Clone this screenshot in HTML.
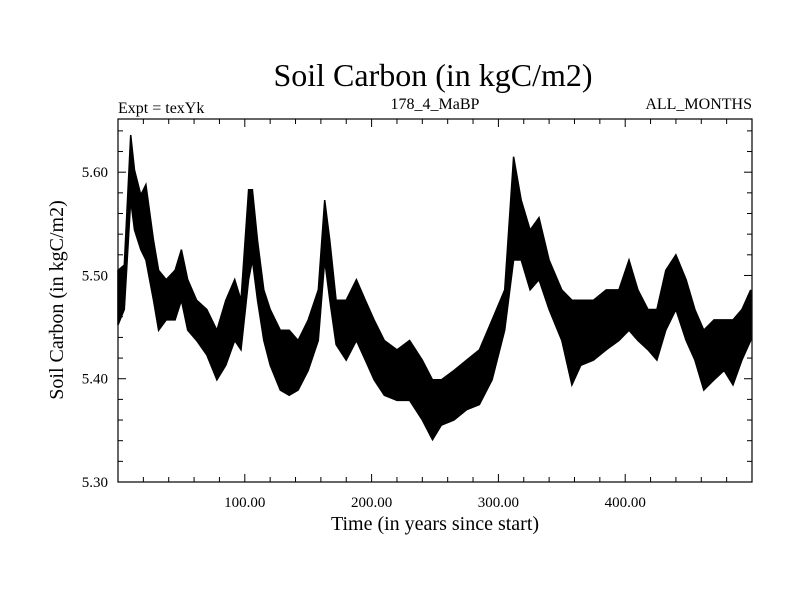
<!DOCTYPE html>
<html><head><meta charset="utf-8"><style>
html,body{margin:0;padding:0;background:#fff;}
svg{display:block;font-family:"Liberation Serif",serif;}
</style></head><body>
<svg id="chart" width="800" height="600">
<text x="433" y="86" font-size="32" text-anchor="middle">Soil Carbon (in kgC/m2)</text>
<text x="118" y="113" font-size="16">Expt = texYk</text>
<text x="435" y="109" font-size="16" text-anchor="middle">178_4_MaBP</text>
<text x="752" y="109" font-size="16" text-anchor="end">ALL_MONTHS</text>
<text x="435" y="530" font-size="20" text-anchor="middle">Time (in years since start)</text>
<text transform="translate(63,300) rotate(-90)" font-size="20" text-anchor="middle">Soil Carbon (in kgC/m2)</text>
<g id="ticks"></g>
<path id="band" fill="#000" stroke="#000" stroke-width="1.5"></path>
<rect x="118" y="119" width="634" height="363" fill="none" stroke="#000" stroke-width="1.2"></rect>
</svg>
<script>
const years = [0,5,10,13,18,22,28,32,38,45,50,55,62,70,78,85,92,97,103,106,110,115,120,128,135,142,150,158,163,167,172,180,188,195,202,210,220,230,240,248,255,265,275,285,295,305,312,318,325,332,340,350,358,365,375,385,395,403,410,418,425,432,440,448,455,462,470,478,485,492,499];
const upper = [5.505,5.510,5.636,5.602,5.578,5.588,5.534,5.505,5.496,5.505,5.525,5.496,5.476,5.467,5.447,5.476,5.496,5.476,5.583,5.583,5.534,5.486,5.467,5.447,5.447,5.437,5.457,5.486,5.573,5.534,5.476,5.476,5.496,5.476,5.457,5.437,5.428,5.437,5.418,5.399,5.399,5.408,5.418,5.428,5.457,5.486,5.615,5.573,5.544,5.556,5.515,5.486,5.476,5.476,5.476,5.486,5.486,5.515,5.486,5.467,5.467,5.505,5.520,5.496,5.467,5.447,5.457,5.457,5.457,5.467,5.486];
const lower = [5.452,5.467,5.573,5.544,5.525,5.515,5.476,5.447,5.457,5.457,5.476,5.447,5.437,5.423,5.399,5.413,5.437,5.428,5.496,5.515,5.476,5.437,5.413,5.389,5.384,5.389,5.408,5.437,5.515,5.476,5.433,5.418,5.437,5.418,5.399,5.384,5.379,5.379,5.360,5.341,5.355,5.360,5.370,5.375,5.399,5.447,5.515,5.515,5.486,5.496,5.467,5.437,5.394,5.413,5.418,5.428,5.437,5.447,5.437,5.428,5.418,5.447,5.467,5.437,5.418,5.389,5.399,5.408,5.394,5.418,5.437];
const xTicks = [100,200,300,400];
const yTicks = [5.30,5.40,5.50,5.60];

const X0=118,X1=752,Y0=482,Y1=119,xmin=0,xmax=500,ymin=5.30,ymax=5.6515;
const sx=v=>X0+(v-xmin)/(xmax-xmin)*(X1-X0);
const sy=v=>Y0-(v-ymin)/(ymax-ymin)*(Y0-Y1);
const NS="http://www.w3.org/2000/svg";
const g=document.getElementById('ticks');
function line(x1,y1,x2,y2,name){const l=document.createElementNS(NS,'line');
l.setAttribute('x1',x1);l.setAttribute('y1',y1);l.setAttribute('x2',x2);l.setAttribute('y2',y2);
l.setAttribute('stroke','#000');l.setAttribute('stroke-width','1');


g.appendChild(l);}
function text(x,y,s,anchor,name){const t=document.createElementNS(NS,'text');
t.setAttribute('x',x);t.setAttribute('y',y);t.setAttribute('font-size','15');t.setAttribute('text-anchor',anchor);t.textContent=s;


g.appendChild(t);}
for(let v=0;v<=500;v+=20){const x=sx(v);const major=v%100===0;const L=major?8:5;
line(x,Y0,x,Y0-L,'x-tick');line(x,Y1,x,Y1+L,'x-tick');}
xTicks.forEach(v=>text(sx(v),sy(5.30)+25,v.toFixed(2),'middle','x-tick-label'));
for(let i=0;i*0.02+5.30<=ymax+1e-9;i++){const v=5.30+i*0.02;const y=sy(v);const major=i%5===0;const L=major?8:5;
line(X0,y,X0+L,y,'y-tick');line(X1,y,X1-L,y,'y-tick');}
yTicks.forEach(v=>text(X0-10,sy(v)+5,v.toFixed(2),'end','y-tick-label'));
let d='M'+years.map((t,i)=>sx(t).toFixed(1)+','+sy(upper[i]).toFixed(1)).join('L');
for(let i=years.length-1;i>=0;i--)d+='L'+sx(years[i]).toFixed(1)+','+sy(lower[i]).toFixed(1);
d+='Z';
document.getElementById('band').setAttribute('d',d);
</script>
</body></html>
